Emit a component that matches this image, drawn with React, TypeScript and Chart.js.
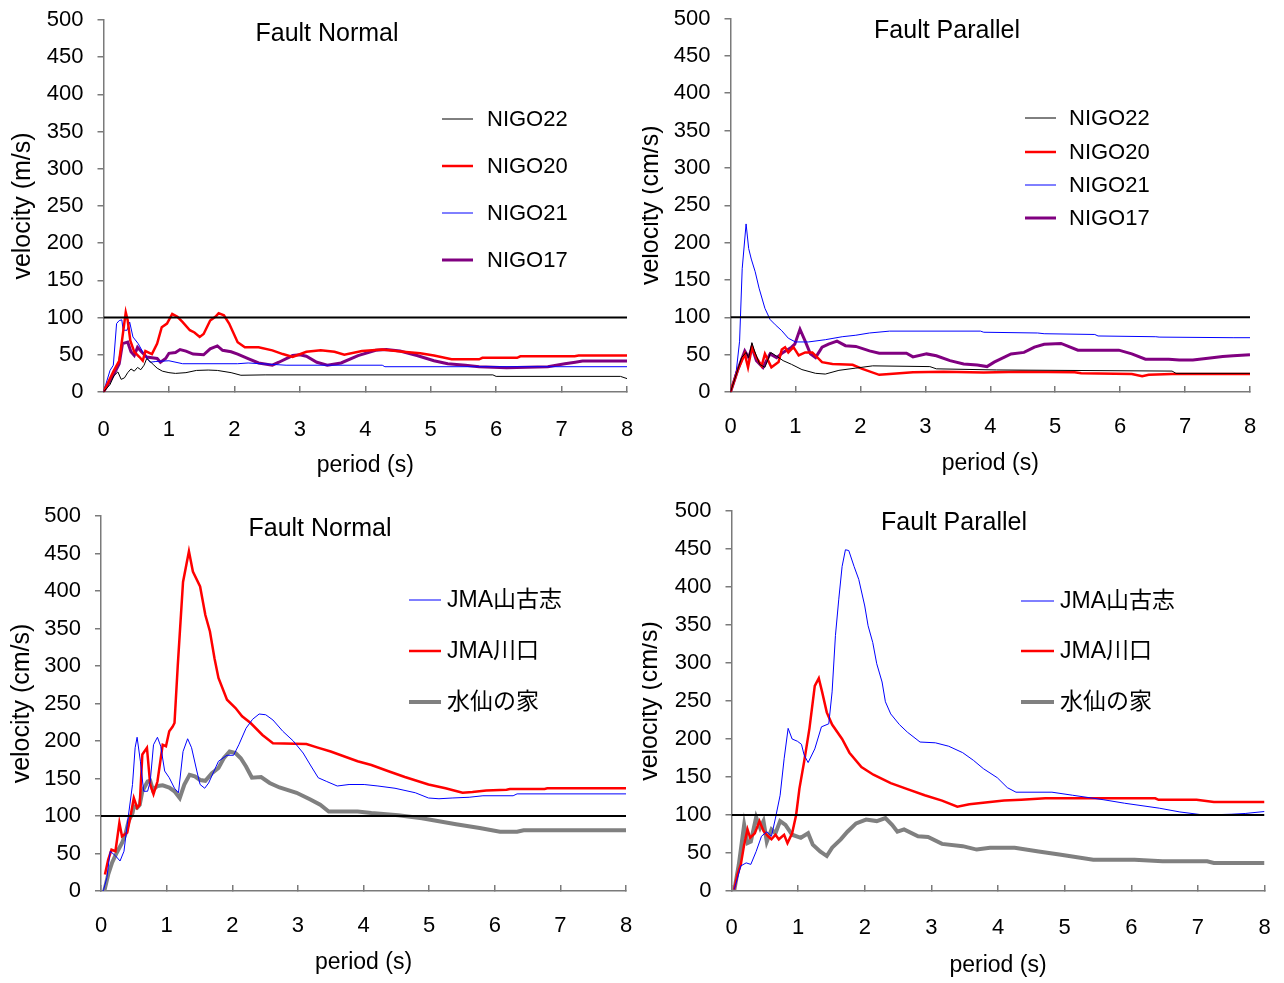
import React, { useEffect, useRef } from 'react';
import { Chart, registerables } from 'chart.js';

Chart.register(...registerables);

const FONT = '"Liberation Sans", Arial, "Noto Sans CJK JP", sans-serif';
const AXIS = '#7a7a7a';

// ---------- reference line (100) ----------
const refX = [0, 8];
const refY = [100, 100];

// ---------- Panel 1: Fault Normal (NIGO) ----------
const fnN22x = [0, .05, .1, .16, .22, .27, .32, .37, .42, .47, .52, .57, .62, .66, .7, .76, .82, .9, 1.0, 1.1, 1.26, 1.42, 1.6, 1.74, 1.95, 2.1, 2.47, 5.95, 6.0, 7.9, 8.0];
const fnN22y = [0, 5, 10, 22, 27, 17, 19, 26, 31, 28, 33, 30, 36, 45, 42, 37, 32, 28, 26, 25, 26, 29, 29.5, 29, 26, 22.5, 23, 23, 21, 21, 18];
const fnN20x = [0, .16, .24, .29, .34, .37, .41, .47, .55, .6, .64, .74, .82, .89, .97, 1.05, 1.13, 1.21, 1.32, 1.39, 1.47, 1.53, 1.63, 1.71, 1.76, 1.84, 1.92, 2.05, 2.16, 2.37, 2.58, 2.74, 2.89, 3.1, 3.32, 3.53, 3.68, 3.95, 4.26, 4.58, 4.84, 5.05, 5.32, 5.74, 5.79, 6.32, 6.37, 7.2, 7.26, 8];
const fnN20y = [0, 29, 42, 74, 107, 96, 69, 54, 47, 42, 55, 51, 65, 87, 92, 105, 101, 94, 83, 80, 74, 78, 96, 101, 106, 103, 92, 67, 60, 60, 56, 51, 47, 54, 56, 54, 50, 55, 57, 54, 52, 49, 44, 44, 46, 46, 48, 48, 49, 49];
const fnN21x = [0, .1, .15, .2, .24, .28, .3, .36, .4, .45, .53, .6, .71, .8, 1.0, 1.21, 2.05, 2.21, 2.79, 4.26, 4.3, 8];
const fnN21y = [0, 29, 36, 92, 96, 97, 83, 83, 94, 74, 65, 54, 40, 41, 42, 38, 38, 39, 36, 36, 34, 34];
const fnN17x = [0, .16, .24, .29, .37, .42, .47, .52, .58, .66, .74, .82, .87, .95, 1.0, 1.1, 1.17, 1.26, 1.37, 1.53, 1.63, 1.74, 1.82, 1.95, 2.05, 2.21, 2.37, 2.58, 2.68, 2.89, 3.0, 3.1, 3.26, 3.42, 3.63, 3.89, 4.16, 4.32, 4.53, 4.79, 5.05, 5.26, 5.53, 5.74, 6.16, 6.79, 7.05, 7.21, 7.32, 8];
const fnN17y = [0, 24, 38, 65, 67, 54, 49, 60, 54, 47, 46, 45, 40, 45, 52, 53, 57, 55, 51, 50, 58, 62, 56, 54, 51, 45, 39, 36, 40, 49, 50, 48, 40, 36, 39, 49, 56, 57, 55, 49, 42, 38, 36, 34, 32.5, 34, 38, 40, 41.5, 41.5];

// ---------- Panel 2: Fault Parallel (NIGO) ----------
const fpN22x = [0, .09, .17, .24, .28, .33, .37, .45, .53, .62, .71, .81, .94, 1.1, 1.31, 1.46, 1.67, 1.93, 2.19, 3.07, 3.17, 4.1, 6.8, 6.86, 8];
const fpN22y = [0, 24, 46, 53, 46, 66, 55, 37, 33, 53, 48, 42, 37, 30, 25, 24, 29, 32, 35, 34, 31, 29.5, 28, 25, 25];
const fpN20x = [0, .11, .22, .27, .33, .4, .48, .53, .63, .74, .79, .84, .89, .97, 1.05, 1.15, 1.26, 1.41, 1.57, 1.88, 2.03, 2.29, 2.45, 2.81, 3.28, 3.9, 4.47, 5.3, 5.4, 6.18, 6.34, 6.44, 6.8, 8];
const fpN20y = [0, 29, 51, 33, 60, 46, 35, 51, 33, 40, 57, 60, 53, 60, 49, 53, 53, 40, 37.5, 36.5, 31, 23, 24, 26.5, 27, 26, 27, 26.5, 25, 24, 21, 23, 24, 24];
const fpN21x = [0, .09, .14, .18, .24, .28, .32, .38, .44, .53, .61, .69, .79, .89, 1.0, 1.2, 1.46, 1.72, 1.93, 2.14, 2.45, 3.85, 3.9, 4.73, 4.83, 5.61, 5.66, 6.55, 6.6, 7.74, 8];
const fpN21y = [0, 29, 68, 165, 225, 192, 178, 161, 139, 112, 97, 90, 82, 72, 67, 67, 70, 74, 76, 79, 81.5, 81.5, 80, 79, 78, 77, 75, 74, 73.5, 72.7, 72.7];
const fpN17x = [0, .11, .22, .28, .33, .4, .5, .61, .71, .81, .94, .99, 1.07, 1.15, 1.23, 1.31, 1.41, 1.51, 1.64, 1.77, 1.93, 2.14, 2.29, 2.71, 2.81, 3.02, 3.17, 3.38, 3.59, 3.8, 3.95, 4.06, 4.32, 4.52, 4.68, 4.83, 5.09, 5.35, 5.98, 6.18, 6.39, 6.75, 6.91, 7.12, 7.32, 7.58, 7.74, 8];
const fpN17y = [0, 29, 55, 46, 60, 42, 33, 51, 46, 53, 60, 64, 84, 68, 51, 46, 60, 64, 68, 62, 61, 55, 52, 52, 47, 51, 48.5, 42, 37.5, 36, 34, 40, 51, 53, 60, 64, 65, 56, 56, 51, 44, 44, 43, 43, 45, 47.6, 48.5, 50];

// ---------- Panel 3: Fault Normal (JMA) ----------
const fnYamX = [.03, .04, .09, .14, .22, .29, .35, .4, .48, .52, .55, .6, .65, .71, .75, .8, .86, .91, .97, 1.04, 1.12, 1.18, 1.25, 1.32, 1.38, 1.46, 1.51, 1.58, 1.64, 1.79, 1.92, 2.02, 2.1, 2.21, 2.31, 2.41, 2.51, 2.62, 2.77, 2.93, 3.08, 3.19, 3.31, 3.44, 3.6, 3.78, 4.01, 4.22, 4.48, 4.79, 4.99, 5.15, 5.35, 5.61, 5.82, 6.28, 6.34, 8];
const fnYamY = [0, 2, 18, 53, 47, 40, 53, 89, 142, 191, 205, 173, 133, 133, 146, 195, 205, 193, 160, 151, 137, 131, 186, 203, 191, 160, 142, 137, 144, 173, 181, 181, 195, 217, 229, 236, 235, 228, 213, 200, 184, 168, 151, 146, 140, 142, 142, 140, 137, 131, 124, 123, 124, 125, 127, 127, 129.5, 129.5];
const fnKawX = [.06, .11, .16, .22, .28, .32, .4, .45, .5, .55, .59, .63, .7, .75, .8, .86, .94, .99, 1.04, 1.09, 1.12, 1.17, 1.25, 1.34, 1.4, 1.51, 1.59, 1.66, 1.73, 1.79, 1.92, 2.05, 2.15, 2.28, 2.46, 2.62, 3.13, 3.29, 3.5, 3.91, 4.12, 4.37, 4.63, 4.99, 5.25, 5.51, 5.66, 5.87, 6.18, 6.23, 6.76, 6.8, 8];
const fnKawY = [22, 42, 55, 53, 91, 73, 78, 100, 124, 111, 115, 182, 191, 142, 129, 146, 195, 193, 213, 219, 224, 301, 412, 453, 426, 406, 368, 346, 310, 284, 255, 244, 233, 224, 208, 197, 196, 191.5, 186, 173, 168, 160, 152, 142, 137, 131, 132, 134, 135, 136, 136, 137, 137];
const fnSuiX = [.05, .11, .17, .24, .32, .37, .42, .48, .5, .55, .59, .63, .71, .75, .79, .86, .94, 1.04, 1.12, 1.2, 1.27, 1.35, 1.43, 1.51, 1.59, 1.69, 1.79, 1.87, 1.96, 2.05, 2.13, 2.21, 2.3, 2.44, 2.57, 2.72, 2.98, 3.19, 3.34, 3.47, 3.91, 4.12, 4.53, 4.89, 5.41, 5.77, 6.08, 6.34, 6.44, 8];
const fnSuiY = [0, 22, 38, 51, 64, 75, 93, 104, 113, 111, 115, 133, 146, 147, 135, 140, 141, 138, 133, 124, 142, 155, 153, 148, 147, 157, 164, 177, 186, 184, 177, 166, 151, 152, 144, 138, 131, 122, 115, 106, 106, 104, 101, 97, 89, 84, 79, 79, 81, 81];

// ---------- Panel 4: Fault Parallel (JMA) ----------
const fpYamX = [.04, .09, .14, .22, .29, .37, .45, .53, .6, .66, .73, .79, .85, .91, .99, 1.05, 1.09, 1.15, 1.25, 1.35, 1.46, 1.51, 1.56, 1.61, 1.66, 1.71, 1.76, 1.84, 1.91, 2.0, 2.05, 2.12, 2.18, 2.26, 2.31, 2.39, 2.52, 2.64, 2.83, 3.06, 3.26, 3.47, 3.63, 3.78, 3.99, 4.14, 4.27, 4.81, 5.12, 5.59, 5.9, 6.42, 6.73, 7.09, 7.5, 7.71, 8];
const fpYamY = [2, 17, 33, 37, 35, 52, 72, 78, 72, 96, 126, 174, 214, 200, 197, 193, 179, 169, 187, 216, 220, 262, 336, 384, 427, 449, 448, 427, 410, 375, 349, 327, 299, 275, 249, 233, 219, 209, 196, 195, 190.5, 182, 172, 161, 149, 136, 130, 130, 126, 120, 115.5, 109, 104, 100, 101, 102, 104.6];
const fpKawX = [.04, .09, .14, .19, .24, .28, .35, .42, .48, .55, .6, .66, .71, .79, .84, .91, .97, 1.02, 1.09, 1.17, 1.25, 1.31, 1.36, 1.43, 1.51, 1.66, 1.77, 1.95, 2.13, 2.39, 2.64, 2.9, 3.16, 3.39, 3.57, 3.88, 4.09, 4.35, 4.71, 6.36, 6.41, 6.98, 7.24, 8];
const fpKawY = [2, 22, 35, 61, 81, 70, 76, 92, 79, 72, 68, 74, 68, 74, 63, 76, 100, 135, 170, 214, 270, 280, 262, 235, 219, 200, 182, 163, 153, 142, 134, 126, 119, 111, 114, 117, 119, 120, 122, 122, 120, 120, 117, 117];
const fpSuiX = [.04, .11, .19, .24, .29, .37, .43, .48, .53, .6, .66, .73, .81, .91, 1.04, 1.15, 1.22, 1.33, 1.43, 1.51, 1.64, 1.74, 1.87, 2.02, 2.18, 2.31, 2.41, 2.49, 2.59, 2.8, 2.95, 3.16, 3.47, 3.68, 3.88, 4.25, 4.61, 4.92, 5.43, 6.05, 6.47, 7.14, 7.24, 8];
const fpSuiY = [0, 35, 87, 63, 65, 97, 83, 92, 65, 81, 76, 92, 87, 74, 70, 76, 61, 52, 46, 57, 68, 78, 89, 94, 92, 96, 87, 78, 81, 72, 71, 62, 59, 54.5, 57, 57, 52, 48, 41, 41, 39, 39, 37, 37];

type Series = { label: string; x: number[]; y: number[]; color: string; width: number };
type Panel = {
  left: number; top: number; w: number; h: number;
  L: number; R: number; T: number; B: number;
  title: string; titleX: number; titleY: number;
  yTitle: string; yTitleX: number; xTitleY: number; xLabelY: number;
  legX1: number; legX2: number; legTextX: number; legY: number[]; legFont: number;
  series: Series[];
};

const RED = '#ff0000';
const BLUE = '#0000ff';
const PURPLE = '#800080';
const GRAY = '#808080';

const nigoFN: Series[] = [
  { label: 'NIGO22', x: fnN22x, y: fnN22y, color: '#000000', width: 1 },
  { label: 'NIGO20', x: fnN20x, y: fnN20y, color: RED, width: 2.5 },
  { label: 'NIGO21', x: fnN21x, y: fnN21y, color: BLUE, width: 1 },
  { label: 'NIGO17', x: fnN17x, y: fnN17y, color: PURPLE, width: 3 },
];
const nigoFP: Series[] = [
  { label: 'NIGO22', x: fpN22x, y: fpN22y, color: '#000000', width: 1 },
  { label: 'NIGO20', x: fpN20x, y: fpN20y, color: RED, width: 2.5 },
  { label: 'NIGO21', x: fpN21x, y: fpN21y, color: BLUE, width: 1 },
  { label: 'NIGO17', x: fpN17x, y: fpN17y, color: PURPLE, width: 3 },
];
const jmaFN: Series[] = [
  { label: 'JMA山古志', x: fnYamX, y: fnYamY, color: BLUE, width: 1 },
  { label: 'JMA川口', x: fnKawX, y: fnKawY, color: RED, width: 2.5 },
  { label: '水仙の家', x: fnSuiX, y: fnSuiY, color: GRAY, width: 4 },
];
const jmaFP: Series[] = [
  { label: 'JMA山古志', x: fpYamX, y: fpYamY, color: BLUE, width: 1 },
  { label: 'JMA川口', x: fpKawX, y: fpKawY, color: RED, width: 2.5 },
  { label: '水仙の家', x: fpSuiX, y: fpSuiY, color: GRAY, width: 4 },
];

const PANELS: Panel[] = [
  {
    left: 0, top: 0, w: 642, h: 490, L: 103.5, R: 627, T: 20, B: 392,
    title: 'Fault Normal', titleX: 327, titleY: 34,
    yTitle: 'velocity (m/s)', yTitleX: 23, xTitleY: 466, xLabelY: 430,
    legX1: 442, legX2: 473, legTextX: 487, legY: [119, 166, 213, 260], legFont: 22,
    series: nigoFN,
  },
  {
    left: 642, top: 0, w: 642, h: 490, L: 730.5, R: 1250, T: 18.5, B: 392,
    title: 'Fault Parallel', titleX: 947, titleY: 31,
    yTitle: 'velocity (cm/s)', yTitleX: 651, xTitleY: 464, xLabelY: 427,
    legX1: 1025, legX2: 1056, legTextX: 1069, legY: [118, 152, 185, 218], legFont: 22,
    series: nigoFP,
  },
  {
    left: 0, top: 490, w: 642, h: 493, L: 101, R: 626, T: 516, B: 891,
    title: 'Fault Normal', titleX: 320, titleY: 529,
    yTitle: 'velocity (cm/s)', yTitleX: 22, xTitleY: 963, xLabelY: 926,
    legX1: 409, legX2: 441, legTextX: 447, legY: [600, 651, 702], legFont: 23,
    series: jmaFN,
  },
  {
    left: 642, top: 490, w: 642, h: 493, L: 731.5, R: 1264.5, T: 511, B: 891,
    title: 'Fault Parallel', titleX: 954, titleY: 523,
    yTitle: 'velocity (cm/s)', yTitleX: 650, xTitleY: 966, xLabelY: 928,
    legX1: 1021, legX2: 1054, legTextX: 1060, legY: [601, 651, 702], legFont: 23,
    series: jmaFP,
  },
];

function zeroPad(s: any) {
  s.paddingTop = 0;
  s.paddingBottom = 0;
  s.paddingLeft = 0;
  s.paddingRight = 0;
}

function PanelChart({ p }: { p: Panel }) {
  const ref = useRef<HTMLCanvasElement | null>(null);
  useEffect(() => {
    if (!ref.current) return;
    const lx = (g: number) => g - p.left;
    const ly = (g: number) => g - p.top;
    const tickSize = 22;
    const xTitleSize = 23;
    const yTitleSize = 25;
    const tickLH = tickSize * 1.2;
    const xtLH = xTitleSize * 1.2;
    const ytLH = yTitleSize * 1.2;
    const L = lx(p.L), R = lx(p.R), T = ly(p.T), B = ly(p.B);
    const xBottom = ly(p.xTitleY) + xtLH / 2 + 4;
    const H = xBottom - B;

    const datasets: any[] = [
      {
        label: '',
        data: refX.map((x, i) => ({ x, y: refY[i] })),
        borderColor: '#000000', borderWidth: 2, pointRadius: 0, fill: false, tension: 0,
      },
      ...p.series.map((s) => ({
        label: s.label,
        data: s.x.map((x, i) => ({ x, y: s.y[i] })),
        borderColor: s.color, backgroundColor: s.color, borderWidth: s.width,
        pointRadius: 0, fill: false, tension: 0,
      })),
    ];

    const overlay = {
      id: 'overlay',
      afterDraw(chart: any) {
        const ctx = chart.ctx;
        ctx.save();
        ctx.fillStyle = '#000';
        ctx.textBaseline = 'middle';
        ctx.textAlign = 'center';
        ctx.font = `25px ${FONT}`;
        ctx.fillText(p.title, lx(p.titleX), ly(p.titleY));
        ctx.textAlign = 'left';
        ctx.font = `${p.legFont}px ${FONT}`;
        chart.data.datasets.forEach((ds: any, i: number) => {
          if (!ds.label) return;
          const row = i - 1;
          const y = ly(p.legY[row]);
          ctx.strokeStyle = ds.borderColor;
          ctx.lineWidth = ds.borderWidth;
          ctx.beginPath();
          ctx.moveTo(lx(p.legX1), y);
          ctx.lineTo(lx(p.legX2), y);
          ctx.stroke();
          ctx.fillStyle = '#000';
          ctx.fillText(ds.label, lx(p.legTextX), y + 1);
        });
        ctx.restore();
      },
    };

    const chart = new Chart(ref.current, {
      type: 'line',
      data: { datasets },
      options: {
        animation: false,
        responsive: false,
        devicePixelRatio: 1,
        events: [],
        layout: {
          autoPadding: false,
          padding: { left: 0, top: T, right: p.w - R, bottom: p.h - B - H },
        },
        plugins: {
          legend: { display: false },
          tooltip: { enabled: false },
          title: { display: false },
        },
        scales: {
          x: {
            type: 'linear', min: 0, max: 8,
            afterFit: (s: any) => { s.height = H; zeroPad(s); },
            ticks: {
              stepSize: 1, color: '#000', font: { family: FONT, size: tickSize },
              padding: ly(p.xLabelY) - B + 6 - tickLH / 2, maxRotation: 0, autoSkip: false,
            },
            grid: { drawOnChartArea: false, drawTicks: true, tickLength: -6, color: AXIS, lineWidth: 1.5 },
            border: { display: true, color: AXIS, width: 1.5 },
            title: {
              display: true, text: 'period (s)', color: '#000',
              font: { family: FONT, size: xTitleSize }, padding: { top: 0, bottom: 4 },
            },
          },
          y: {
            type: 'linear', min: 0, max: 500,
            afterFit: (s: any) => { s.width = L; zeroPad(s); },
            ticks: { stepSize: 50, color: '#000', font: { family: FONT, size: tickSize }, padding: 14 },
            grid: { drawOnChartArea: false, drawTicks: true, tickLength: 6, color: AXIS, lineWidth: 1.5 },
            border: { display: true, color: AXIS, width: 1.5 },
            title: {
              display: true, text: p.yTitle, color: '#000',
              font: { family: FONT, size: yTitleSize },
              padding: { top: lx(p.yTitleX) - ytLH / 2, bottom: 0 },
            },
          },
        },
      } as any,
      plugins: [overlay],
    });
    return () => chart.destroy();
  }, [p]);
  return (
    <canvas
      ref={ref}
      width={p.w}
      height={p.h}
      style={{ position: 'absolute', left: p.left, top: p.top, width: p.w, height: p.h, display: 'block' }}
    />
  );
}

export default function App() {
  return (
    <div style={{ position: 'absolute', left: 0, top: 0, width: 1284, height: 983, background: '#ffffff' }}>
      {PANELS.map((p, i) => (
        <PanelChart key={i} p={p} />
      ))}
    </div>
  );
}
